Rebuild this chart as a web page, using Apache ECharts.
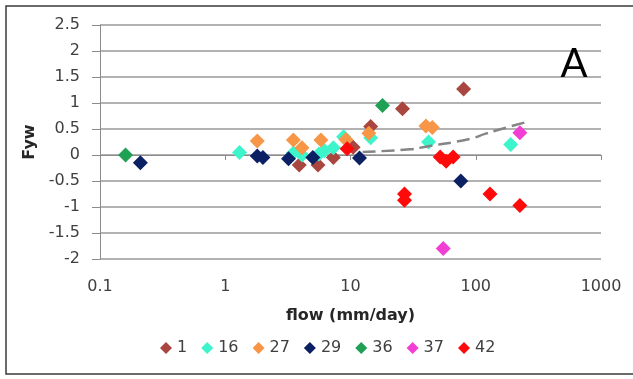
<!DOCTYPE html>
<html>
<head>
<meta charset="utf-8">
<script src="https://cdn.jsdelivr.net/npm/echarts@6/dist/echarts.min.js"></script>
<style>
html,body{margin:0;padding:0;background:#fff;}
#chart{width:633px;height:379px;}
</style>
</head>
<body>
<div id="chart"></div>
<script>
// ---- data ----
var seriesNames = ['1', '16', '27', '29', '36', '37', '42'];
var seriesColors = ['#A9463F', '#3DF5CB', '#F79646', '#0B2164', '#1EA055', '#F23FD3', '#FF0A0A'];
var s1  = [[80,1.27],[26,0.89],[14.5,0.55],[10.5,0.15],[5.5,-0.19],[3.9,-0.19],[7.3,-0.05]];
var s16 = [[1.3,0.05],[3.5,0.04],[4.1,0.0],[5.6,0.02],[6.2,0.08],[7.3,0.14],[8.8,0.35],[14.5,0.33],[42,0.25],[190,0.2]];
var s27 = [[1.8,0.27],[3.5,0.29],[4.1,0.14],[5.8,0.29],[9.2,0.3],[14,0.42],[40,0.56],[45,0.53]];
var s29 = [[0.21,-0.15],[1.8,-0.02],[2.0,-0.05],[3.2,-0.07],[5.0,-0.05],[11.8,-0.06],[76,-0.5]];
var s36 = [[0.16,0.0],[18,0.95]];
var s37 = [[55,-1.8],[225,0.43]];
var s42 = [[9.4,0.12],[27,-0.75],[27,-0.87],[52,-0.04],[58,-0.12],[66,-0.04],[130,-0.75],[225,-0.97]];
var trend = [[12.5,0.06],[30,0.11],[40,0.16],[90,0.31],[120,0.41],[160,0.5],[260,0.64]];
var xTicks = [0.1, 1, 10, 100, 1000];
var yTicks = [-2, -1.5, -1, -0.5, 0, 0.5, 1, 1.5, 2, 2.5];

var allSeries = [s1, s16, s27, s29, s36, s37, s42];
var FONT = 'DejaVu Sans';

var chart = echarts.init(document.getElementById('chart'), null, {renderer: 'canvas'});

var series = allSeries.map(function (d, i) {
  return {
    name: seriesNames[i],
    type: 'scatter',
    data: d,
    symbol: 'diamond',
    symbolSize: 15,
    itemStyle: {color: seriesColors[i], opacity: 1},
    z: 2 + i
  };
});
series.push({
  name: 'trend',
  type: 'line',
  data: trend,
  showSymbol: false,
  symbol: 'none',
  smooth: true,
  lineStyle: {color: '#858585', width: 2.5, type: [13, 6]},
  z: 20,
  silent: true
});

chart.setOption({
  animation: false,
  backgroundColor: '#fff',
  textStyle: {fontFamily: FONT},
  grid: {left: 100, right: 32, top: 25, bottom: 120, containLabel: false},
  legend: {
    data: seriesNames.map(function (n) { return {name: n, icon: 'diamond'}; }),
    left: 160,
    top: 340,
    itemWidth: 12,
    itemHeight: 12,
    itemGap: 14,
    padding: 0,
    textStyle: {fontFamily: FONT, fontSize: 16, color: '#404040'}
  },
  xAxis: {
    type: 'log',
    logBase: 10,
    min: 0.1,
    max: 1000,
    name: 'flow (mm/day)',
    nameLocation: 'middle',
    nameGap: 49,
    nameTextStyle: {fontFamily: FONT, fontSize: 16, fontWeight: 'bold', color: '#262626'},
    axisLine: {show: true, lineStyle: {color: '#8C8C8C', width: 1}},
    axisTick: {show: true, length: 5, lineStyle: {color: '#8C8C8C'}},
    minorTick: {show: false},
    splitLine: {show: false},
    axisLabel: {
      fontFamily: FONT, fontSize: 16, color: '#404040', margin: 20,
      formatter: function (v) {
        for (var i = 0; i < xTicks.length; i++) {
          if (Math.abs(v - xTicks[i]) / xTicks[i] < 1e-6) return String(xTicks[i]);
        }
        return '';
      }
    }
  },
  yAxis: {
    type: 'value',
    min: -2,
    max: 2.5,
    interval: 0.5,
    name: 'Fyw',
    nameLocation: 'middle',
    nameGap: 62,
    nameTextStyle: {fontFamily: FONT, fontSize: 16, fontWeight: 'bold', color: '#262626'},
    axisLine: {show: true, lineStyle: {color: '#8C8C8C', width: 1}},
    axisTick: {show: true, length: 8, lineStyle: {color: '#8C8C8C'}},
    splitLine: {show: true, lineStyle: {color: '#989898', width: 1.5}},
    axisLabel: {
      fontFamily: FONT, fontSize: 16, color: '#404040', margin: 20,
      formatter: function (v) {
        for (var i = 0; i < yTicks.length; i++) {
          if (Math.abs(v - yTicks[i]) < 1e-9) return String(yTicks[i]);
        }
        return '';
      }
    }
  },
  graphic: [
    {
      type: 'rect',
      shape: {x: 6, y: 6, width: 640, height: 368},
      style: {fill: null, stroke: '#3A3A3A', lineWidth: 1.5},
      silent: true,
      z: 100
    },
    {
      type: 'text',
      x: 574,
      y: 64,
      style: {text: 'A', fontFamily: 'Lato', fontSize: 40, fill: '#000', textAlign: 'center', textVerticalAlign: 'middle'},
      z: 100
    }
  ],
  series: series
});
</script>
</body>
</html>
